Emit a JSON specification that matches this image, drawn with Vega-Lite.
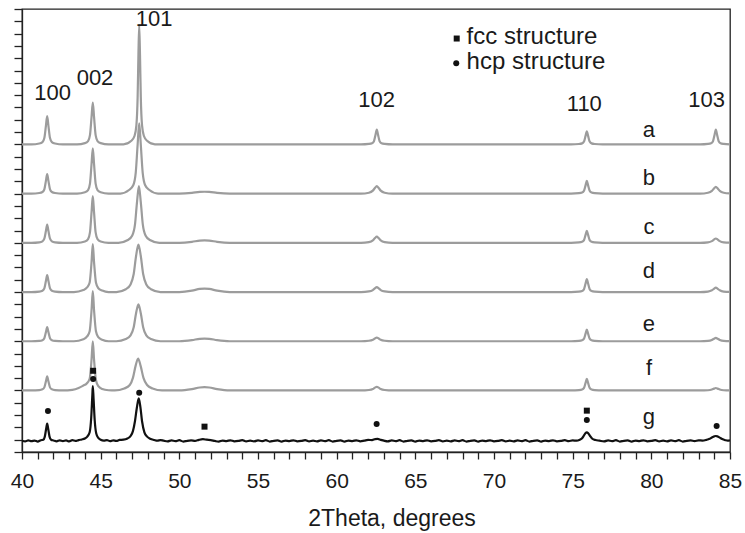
{
"$schema": "https://vega.github.io/schema/vega-lite/v6.json",
"width": 708, "height": 443,
"autosize": {"type": "none"},
"padding": {"left": 22, "top": 9, "right": 15, "bottom": 81},
"background": "white",
"config": {"view": {"stroke": "#222", "strokeWidth": 1.3}, "font": "Liberation Sans"},
"datasets": {
"curves": [
{"s":"a","x":40.0,"y":25},{"s":"a","x":40.6,"y":25},{"s":"a","x":41.1,"y":25.07},{"s":"a","x":41.3,"y":25.18},{"s":"a","x":41.42,"y":25.51},{"s":"a","x":41.52,"y":26.5},{"s":"a","x":41.6,"y":27.3},{"s":"a","x":41.68,"y":26.5},{"s":"a","x":41.78,"y":25.51},{"s":"a","x":41.9,"y":25.18},{"s":"a","x":42.1,"y":25.07},{"s":"a","x":42.6,"y":25},
{"s":"a","x":43.5,"y":25},{"s":"a","x":44.0,"y":25.1},{"s":"a","x":44.2,"y":25.27},{"s":"a","x":44.32,"y":25.75},{"s":"a","x":44.42,"y":27.21},{"s":"a","x":44.5,"y":28.4},{"s":"a","x":44.58,"y":27.21},{"s":"a","x":44.68,"y":25.75},{"s":"a","x":44.8,"y":25.27},{"s":"a","x":45.0,"y":25.1},{"s":"a","x":45.5,"y":25},
{"s":"a","x":46.45,"y":25},{"s":"a","x":46.95,"y":25.29},{"s":"a","x":47.15,"y":25.68},{"s":"a","x":47.27,"y":26.55},{"s":"a","x":47.35,"y":28.88},{"s":"a","x":47.4,"y":32.28},{"s":"a","x":47.45,"y":34.7},{"s":"a","x":47.5,"y":32.28},{"s":"a","x":47.55,"y":28.88},{"s":"a","x":47.63,"y":26.55},{"s":"a","x":47.75,"y":25.68},{"s":"a","x":47.95,"y":25.29},{"s":"a","x":48.45,"y":25},
{"s":"a","x":55,"y":25},{"s":"a","x":61.55,"y":25},{"s":"a","x":62.05,"y":25.04},{"s":"a","x":62.25,"y":25.1},{"s":"a","x":62.37,"y":25.26},{"s":"a","x":62.47,"y":25.78},{"s":"a","x":62.55,"y":26.2},{"s":"a","x":62.63,"y":25.78},{"s":"a","x":62.73,"y":25.26},{"s":"a","x":62.85,"y":25.1},{"s":"a","x":63.05,"y":25.04},{"s":"a","x":63.55,"y":25},
{"s":"a","x":70,"y":25},{"s":"a","x":74.9,"y":25},{"s":"a","x":75.4,"y":25.03},{"s":"a","x":75.6,"y":25.08},{"s":"a","x":75.72,"y":25.23},{"s":"a","x":75.82,"y":25.69},{"s":"a","x":75.9,"y":26.06},{"s":"a","x":75.98,"y":25.69},{"s":"a","x":76.08,"y":25.23},{"s":"a","x":76.2,"y":25.08},{"s":"a","x":76.4,"y":25.03},{"s":"a","x":76.9,"y":25},
{"s":"a","x":83.1,"y":25},{"s":"a","x":83.6,"y":25.04},{"s":"a","x":83.8,"y":25.1},{"s":"a","x":83.92,"y":25.26},{"s":"a","x":84.02,"y":25.78},{"s":"a","x":84.1,"y":26.2},{"s":"a","x":84.18,"y":25.78},{"s":"a","x":84.28,"y":25.26},{"s":"a","x":84.4,"y":25.1},{"s":"a","x":84.6,"y":25.04},{"s":"a","x":85.0,"y":25},

{"s":"b","x":40.0,"y":21},{"s":"b","x":40.6,"y":21},{"s":"b","x":41.1,"y":21.05},{"s":"b","x":41.3,"y":21.13},{"s":"b","x":41.42,"y":21.35},{"s":"b","x":41.52,"y":22.03},{"s":"b","x":41.6,"y":22.58},{"s":"b","x":41.68,"y":22.03},{"s":"b","x":41.78,"y":21.35},{"s":"b","x":41.9,"y":21.13},{"s":"b","x":42.1,"y":21.05},{"s":"b","x":42.6,"y":21},
{"s":"b","x":43.5,"y":21},{"s":"b","x":44.0,"y":21.11},{"s":"b","x":44.2,"y":21.29},{"s":"b","x":44.32,"y":21.81},{"s":"b","x":44.42,"y":23.39},{"s":"b","x":44.5,"y":24.68},{"s":"b","x":44.58,"y":23.39},{"s":"b","x":44.68,"y":21.81},{"s":"b","x":44.8,"y":21.29},{"s":"b","x":45.0,"y":21.11},{"s":"b","x":45.5,"y":21},
{"s":"b","x":46.25,"y":21},{"s":"b","x":46.8,"y":21.29},{"s":"b","x":47.07,"y":21.68},{"s":"b","x":47.23,"y":22.71},{"s":"b","x":47.35,"y":24.99},{"s":"b","x":47.45,"y":26.7},{"s":"b","x":47.55,"y":24.99},{"s":"b","x":47.67,"y":22.71},{"s":"b","x":47.83,"y":21.68},{"s":"b","x":48.1,"y":21.29},{"s":"b","x":48.65,"y":21},
{"s":"b","x":50.0,"y":21},{"s":"b","x":50.8,"y":21.06},{"s":"b","x":51.3,"y":21.14},{"s":"b","x":51.6,"y":21.15},{"s":"b","x":51.9,"y":21.14},{"s":"b","x":52.4,"y":21.06},{"s":"b","x":53.2,"y":21},
{"s":"b","x":61.55,"y":21},{"s":"b","x":62.05,"y":21.07},{"s":"b","x":62.3,"y":21.24},{"s":"b","x":62.43,"y":21.45},{"s":"b","x":62.55,"y":21.6},{"s":"b","x":62.67,"y":21.45},{"s":"b","x":62.8,"y":21.24},{"s":"b","x":63.05,"y":21.07},{"s":"b","x":63.55,"y":21},
{"s":"b","x":74.9,"y":21},{"s":"b","x":75.4,"y":21.03},{"s":"b","x":75.6,"y":21.08},{"s":"b","x":75.72,"y":21.23},{"s":"b","x":75.82,"y":21.67},{"s":"b","x":75.9,"y":22.03},{"s":"b","x":75.98,"y":21.67},{"s":"b","x":76.08,"y":21.23},{"s":"b","x":76.2,"y":21.08},{"s":"b","x":76.4,"y":21.03},{"s":"b","x":76.9,"y":21},
{"s":"b","x":83.1,"y":21},{"s":"b","x":83.6,"y":21.07},{"s":"b","x":83.85,"y":21.22},{"s":"b","x":83.98,"y":21.41},{"s":"b","x":84.1,"y":21.55},{"s":"b","x":84.22,"y":21.41},{"s":"b","x":84.35,"y":21.22},{"s":"b","x":84.6,"y":21.07},{"s":"b","x":85.0,"y":21.01},

{"s":"c","x":40.0,"y":17},{"s":"c","x":40.6,"y":17},{"s":"c","x":41.1,"y":17.04},{"s":"c","x":41.3,"y":17.12},{"s":"c","x":41.42,"y":17.33},{"s":"c","x":41.52,"y":17.96},{"s":"c","x":41.6,"y":18.48},{"s":"c","x":41.68,"y":17.96},{"s":"c","x":41.78,"y":17.33},{"s":"c","x":41.9,"y":17.12},{"s":"c","x":42.1,"y":17.04},{"s":"c","x":42.6,"y":17},
{"s":"c","x":43.5,"y":17},{"s":"c","x":44.0,"y":17.11},{"s":"c","x":44.2,"y":17.3},{"s":"c","x":44.32,"y":17.84},{"s":"c","x":44.42,"y":19.47},{"s":"c","x":44.5,"y":20.8},{"s":"c","x":44.58,"y":19.47},{"s":"c","x":44.68,"y":17.84},{"s":"c","x":44.8,"y":17.3},{"s":"c","x":45.0,"y":17.11},{"s":"c","x":45.5,"y":17},
{"s":"c","x":46.13,"y":17},{"s":"c","x":46.73,"y":17.23},{"s":"c","x":47.01,"y":17.6},{"s":"c","x":47.18,"y":18.47},{"s":"c","x":47.31,"y":20.31},{"s":"c","x":47.43,"y":21.6},{"s":"c","x":47.55,"y":20.31},{"s":"c","x":47.68,"y":18.47},{"s":"c","x":47.85,"y":17.6},{"s":"c","x":48.13,"y":17.23},{"s":"c","x":48.73,"y":17},
{"s":"c","x":50.0,"y":17},{"s":"c","x":50.8,"y":17.08},{"s":"c","x":51.3,"y":17.18},{"s":"c","x":51.6,"y":17.2},{"s":"c","x":51.9,"y":17.18},{"s":"c","x":52.4,"y":17.08},{"s":"c","x":53.2,"y":17},
{"s":"c","x":61.55,"y":17},{"s":"c","x":62.05,"y":17.06},{"s":"c","x":62.3,"y":17.2},{"s":"c","x":62.43,"y":17.38},{"s":"c","x":62.55,"y":17.5},{"s":"c","x":62.67,"y":17.38},{"s":"c","x":62.8,"y":17.2},{"s":"c","x":63.05,"y":17.06},{"s":"c","x":63.55,"y":17},
{"s":"c","x":74.9,"y":17},{"s":"c","x":75.4,"y":17.03},{"s":"c","x":75.6,"y":17.08},{"s":"c","x":75.72,"y":17.22},{"s":"c","x":75.82,"y":17.64},{"s":"c","x":75.9,"y":17.98},{"s":"c","x":75.98,"y":17.64},{"s":"c","x":76.08,"y":17.22},{"s":"c","x":76.2,"y":17.08},{"s":"c","x":76.4,"y":17.03},{"s":"c","x":76.9,"y":17},
{"s":"c","x":83.1,"y":17},{"s":"c","x":83.6,"y":17.04},{"s":"c","x":83.85,"y":17.14},{"s":"c","x":83.98,"y":17.26},{"s":"c","x":84.1,"y":17.35},{"s":"c","x":84.22,"y":17.26},{"s":"c","x":84.35,"y":17.14},{"s":"c","x":84.6,"y":17.04},{"s":"c","x":85.0,"y":17.01},

{"s":"d","x":40.0,"y":13},{"s":"d","x":40.6,"y":13},{"s":"d","x":41.1,"y":13.04},{"s":"d","x":41.3,"y":13.11},{"s":"d","x":41.42,"y":13.3},{"s":"d","x":41.52,"y":13.9},{"s":"d","x":41.6,"y":14.38},{"s":"d","x":41.68,"y":13.9},{"s":"d","x":41.78,"y":13.3},{"s":"d","x":41.9,"y":13.11},{"s":"d","x":42.1,"y":13.04},{"s":"d","x":42.6,"y":13},
{"s":"d","x":43.3,"y":13},{"s":"d","x":43.9,"y":13.16},{"s":"d","x":44.15,"y":13.39},{"s":"d","x":44.3,"y":13.78},{"s":"d","x":44.42,"y":15.42},{"s":"d","x":44.5,"y":16.9},{"s":"d","x":44.58,"y":15.42},{"s":"d","x":44.7,"y":13.78},{"s":"d","x":44.85,"y":13.31},{"s":"d","x":45.1,"y":13.12},{"s":"d","x":45.5,"y":13},
{"s":"d","x":46.0,"y":13},{"s":"d","x":46.6,"y":13.23},{"s":"d","x":46.9,"y":13.62},{"s":"d","x":47.1,"y":14.46},{"s":"d","x":47.25,"y":15.93},{"s":"d","x":47.4,"y":16.85},{"s":"d","x":47.55,"y":15.93},{"s":"d","x":47.7,"y":14.46},{"s":"d","x":47.9,"y":13.62},{"s":"d","x":48.2,"y":13.23},{"s":"d","x":48.8,"y":13},
{"s":"d","x":50.0,"y":13},{"s":"d","x":50.8,"y":13.11},{"s":"d","x":51.3,"y":13.25},{"s":"d","x":51.6,"y":13.28},{"s":"d","x":51.9,"y":13.25},{"s":"d","x":52.4,"y":13.11},{"s":"d","x":53.2,"y":13},
{"s":"d","x":61.55,"y":13},{"s":"d","x":62.05,"y":13.05},{"s":"d","x":62.3,"y":13.16},{"s":"d","x":62.43,"y":13.3},{"s":"d","x":62.55,"y":13.4},{"s":"d","x":62.67,"y":13.3},{"s":"d","x":62.8,"y":13.16},{"s":"d","x":63.05,"y":13.05},{"s":"d","x":63.55,"y":13},
{"s":"d","x":74.9,"y":13},{"s":"d","x":75.4,"y":13.03},{"s":"d","x":75.6,"y":13.08},{"s":"d","x":75.72,"y":13.23},{"s":"d","x":75.82,"y":13.69},{"s":"d","x":75.9,"y":14.06},{"s":"d","x":75.98,"y":13.69},{"s":"d","x":76.08,"y":13.23},{"s":"d","x":76.2,"y":13.08},{"s":"d","x":76.4,"y":13.03},{"s":"d","x":76.9,"y":13},
{"s":"d","x":83.1,"y":13},{"s":"d","x":83.6,"y":13.04},{"s":"d","x":83.85,"y":13.14},{"s":"d","x":83.98,"y":13.26},{"s":"d","x":84.1,"y":13.35},{"s":"d","x":84.22,"y":13.26},{"s":"d","x":84.35,"y":13.14},{"s":"d","x":84.6,"y":13.04},{"s":"d","x":85.0,"y":13.01},

{"s":"e","x":40.0,"y":9},{"s":"e","x":40.6,"y":9},{"s":"e","x":41.1,"y":9.03},{"s":"e","x":41.3,"y":9.09},{"s":"e","x":41.42,"y":9.25},{"s":"e","x":41.52,"y":9.74},{"s":"e","x":41.6,"y":10.14},{"s":"e","x":41.68,"y":9.74},{"s":"e","x":41.78,"y":9.25},{"s":"e","x":41.9,"y":9.09},{"s":"e","x":42.1,"y":9.03},{"s":"e","x":42.6,"y":9},
{"s":"e","x":43.3,"y":9},{"s":"e","x":43.9,"y":9.16},{"s":"e","x":44.15,"y":9.41},{"s":"e","x":44.3,"y":9.81},{"s":"e","x":44.42,"y":11.52},{"s":"e","x":44.5,"y":13.07},{"s":"e","x":44.58,"y":11.52},{"s":"e","x":44.7,"y":9.81},{"s":"e","x":44.85,"y":9.33},{"s":"e","x":45.1,"y":9.12},{"s":"e","x":45.5,"y":9},
{"s":"e","x":46.0,"y":9},{"s":"e","x":46.6,"y":9.18},{"s":"e","x":46.9,"y":9.48},{"s":"e","x":47.1,"y":10.14},{"s":"e","x":47.25,"y":11.28},{"s":"e","x":47.4,"y":12.0},{"s":"e","x":47.55,"y":11.28},{"s":"e","x":47.7,"y":10.14},{"s":"e","x":47.9,"y":9.48},{"s":"e","x":48.2,"y":9.18},{"s":"e","x":48.8,"y":9},
{"s":"e","x":50.0,"y":9},{"s":"e","x":50.8,"y":9.09},{"s":"e","x":51.3,"y":9.2},{"s":"e","x":51.6,"y":9.22},{"s":"e","x":51.9,"y":9.2},{"s":"e","x":52.4,"y":9.09},{"s":"e","x":53.2,"y":9},
{"s":"e","x":61.55,"y":9},{"s":"e","x":62.05,"y":9.04},{"s":"e","x":62.3,"y":9.12},{"s":"e","x":62.43,"y":9.23},{"s":"e","x":62.55,"y":9.3},{"s":"e","x":62.67,"y":9.23},{"s":"e","x":62.8,"y":9.12},{"s":"e","x":63.05,"y":9.04},{"s":"e","x":63.55,"y":9},
{"s":"e","x":74.9,"y":9},{"s":"e","x":75.4,"y":9.03},{"s":"e","x":75.6,"y":9.08},{"s":"e","x":75.72,"y":9.21},{"s":"e","x":75.82,"y":9.62},{"s":"e","x":75.9,"y":9.95},{"s":"e","x":75.98,"y":9.62},{"s":"e","x":76.08,"y":9.21},{"s":"e","x":76.2,"y":9.08},{"s":"e","x":76.4,"y":9.03},{"s":"e","x":76.9,"y":9},
{"s":"e","x":83.1,"y":9},{"s":"e","x":83.6,"y":9.03},{"s":"e","x":83.85,"y":9.11},{"s":"e","x":83.98,"y":9.2},{"s":"e","x":84.1,"y":9.27},{"s":"e","x":84.22,"y":9.2},{"s":"e","x":84.35,"y":9.11},{"s":"e","x":84.6,"y":9.03},{"s":"e","x":85.0,"y":9.01},

{"s":"f","x":40.0,"y":5},{"s":"f","x":40.6,"y":5},{"s":"f","x":41.1,"y":5.03},{"s":"f","x":41.3,"y":5.09},{"s":"f","x":41.42,"y":5.25},{"s":"f","x":41.52,"y":5.74},{"s":"f","x":41.6,"y":6.14},{"s":"f","x":41.68,"y":5.74},{"s":"f","x":41.78,"y":5.25},{"s":"f","x":41.9,"y":5.09},{"s":"f","x":42.1,"y":5.03},{"s":"f","x":42.6,"y":5},
{"s":"f","x":43.2,"y":5.05},{"s":"f","x":43.6,"y":5.2},{"s":"f","x":43.9,"y":5.4},{"s":"f","x":44.1,"y":5.55},{"s":"f","x":44.3,"y":5.95},{"s":"f","x":44.42,"y":7.5},{"s":"f","x":44.5,"y":9.0},{"s":"f","x":44.58,"y":7.5},{"s":"f","x":44.7,"y":5.85},{"s":"f","x":44.85,"y":5.35},{"s":"f","x":45.1,"y":5.12},{"s":"f","x":45.5,"y":5.02},
{"s":"f","x":45.9,"y":5},{"s":"f","x":46.5,"y":5.16},{"s":"f","x":46.85,"y":5.44},{"s":"f","x":47.05,"y":6.02},{"s":"f","x":47.22,"y":7.0},{"s":"f","x":47.38,"y":7.6},{"s":"f","x":47.54,"y":7.0},{"s":"f","x":47.72,"y":6.02},{"s":"f","x":47.95,"y":5.44},{"s":"f","x":48.3,"y":5.16},{"s":"f","x":48.9,"y":5},
{"s":"f","x":50.0,"y":5},{"s":"f","x":50.8,"y":5.11},{"s":"f","x":51.3,"y":5.24},{"s":"f","x":51.6,"y":5.27},{"s":"f","x":51.9,"y":5.24},{"s":"f","x":52.4,"y":5.11},{"s":"f","x":53.2,"y":5},
{"s":"f","x":61.55,"y":5},{"s":"f","x":62.05,"y":5.04},{"s":"f","x":62.3,"y":5.12},{"s":"f","x":62.43,"y":5.23},{"s":"f","x":62.55,"y":5.3},{"s":"f","x":62.67,"y":5.23},{"s":"f","x":62.8,"y":5.12},{"s":"f","x":63.05,"y":5.04},{"s":"f","x":63.55,"y":5},
{"s":"f","x":74.9,"y":5},{"s":"f","x":75.4,"y":5.03},{"s":"f","x":75.6,"y":5.08},{"s":"f","x":75.72,"y":5.21},{"s":"f","x":75.82,"y":5.62},{"s":"f","x":75.9,"y":5.95},{"s":"f","x":75.98,"y":5.62},{"s":"f","x":76.08,"y":5.21},{"s":"f","x":76.2,"y":5.08},{"s":"f","x":76.4,"y":5.03},{"s":"f","x":76.9,"y":5},
{"s":"f","x":83.1,"y":5},{"s":"f","x":83.6,"y":5.02},{"s":"f","x":83.85,"y":5.08},{"s":"f","x":83.98,"y":5.15},{"s":"f","x":84.1,"y":5.2},{"s":"f","x":84.22,"y":5.15},{"s":"f","x":84.35,"y":5.08},{"s":"f","x":84.6,"y":5.02},{"s":"f","x":85.0,"y":5},

{"s":"g","x":40.0,"y":0.92},{"s":"g","x":40.2,"y":0.86},{"s":"g","x":40.4,"y":0.95},{"s":"g","x":40.6,"y":0.88},{"s":"g","x":40.8,"y":0.93},{"s":"g","x":41.0,"y":0.85},{"s":"g","x":41.2,"y":0.96},{"s":"g","x":41.35,"y":1.0},{"s":"g","x":41.45,"y":1.25},{"s":"g","x":41.53,"y":1.85},{"s":"g","x":41.6,"y":2.31},{"s":"g","x":41.67,"y":1.85},{"s":"g","x":41.75,"y":1.25},{"s":"g","x":41.85,"y":1.0},
{"s":"g","x":42.0,"y":0.94},{"s":"g","x":42.2,"y":0.87},{"s":"g","x":42.4,"y":0.95},{"s":"g","x":42.6,"y":0.89},{"s":"g","x":42.8,"y":0.94},{"s":"g","x":43.0,"y":0.86},{"s":"g","x":43.2,"y":0.96},{"s":"g","x":43.4,"y":0.9},{"s":"g","x":43.6,"y":0.97},{"s":"g","x":43.8,"y":1.02},{"s":"g","x":44.0,"y":1.1},{"s":"g","x":44.15,"y":1.25},{"s":"g","x":44.3,"y":1.6},{"s":"g","x":44.4,"y":2.8},{"s":"g","x":44.47,"y":4.6},{"s":"g","x":44.5,"y":5.35},{"s":"g","x":44.55,"y":4.3},{"s":"g","x":44.62,"y":2.6},{"s":"g","x":44.72,"y":1.5},{"s":"g","x":44.85,"y":1.15},
{"s":"g","x":45.0,"y":1.0},{"s":"g","x":45.2,"y":0.93},{"s":"g","x":45.4,"y":0.97},{"s":"g","x":45.6,"y":0.88},{"s":"g","x":45.8,"y":0.95},{"s":"g","x":46.0,"y":0.9},{"s":"g","x":46.2,"y":0.98},{"s":"g","x":46.45,"y":1.0},{"s":"g","x":46.7,"y":1.1},{"s":"g","x":46.9,"y":1.3},{"s":"g","x":47.05,"y":1.7},{"s":"g","x":47.18,"y":2.5},{"s":"g","x":47.3,"y":3.6},{"s":"g","x":47.42,"y":4.35},{"s":"g","x":47.52,"y":3.7},{"s":"g","x":47.63,"y":2.5},{"s":"g","x":47.78,"y":1.6},{"s":"g","x":47.95,"y":1.25},{"s":"g","x":48.15,"y":1.08},{"s":"g","x":48.4,"y":0.98},{"s":"g","x":48.6,"y":0.92},{"s":"g","x":48.8,"y":0.97},
{"s":"g","x":49.0,"y":0.92},{"s":"g","x":49.25,"y":0.86},{"s":"g","x":49.5,"y":0.95},{"s":"g","x":49.75,"y":0.88},{"s":"g","x":50.0,"y":0.96},{"s":"g","x":50.25,"y":0.85},{"s":"g","x":50.5,"y":0.91},{"s":"g","x":50.75,"y":0.94},{"s":"g","x":51.0,"y":0.9},{"s":"g","x":51.25,"y":0.99},{"s":"g","x":51.5,"y":1.04},{"s":"g","x":51.75,"y":1.0},{"s":"g","x":52.0,"y":0.97},{"s":"g","x":52.25,"y":0.9},{"s":"g","x":52.5,"y":0.84},{"s":"g","x":52.75,"y":0.93},
{"s":"g","x":53.0,"y":0.89},{"s":"g","x":53.25,"y":0.95},{"s":"g","x":53.5,"y":0.87},{"s":"g","x":53.75,"y":0.9},{"s":"g","x":54.0,"y":0.96},{"s":"g","x":54.25,"y":0.86},{"s":"g","x":54.5,"y":0.92},{"s":"g","x":54.75,"y":0.86},{"s":"g","x":55.0,"y":0.95},{"s":"g","x":55.25,"y":0.88},{"s":"g","x":55.5,"y":0.96},{"s":"g","x":55.75,"y":0.85},{"s":"g","x":56.0,"y":0.91},{"s":"g","x":56.25,"y":0.94},{"s":"g","x":56.5,"y":0.84},{"s":"g","x":56.75,"y":0.93},
{"s":"g","x":57.0,"y":0.89},{"s":"g","x":57.25,"y":0.95},{"s":"g","x":57.5,"y":0.87},{"s":"g","x":57.75,"y":0.9},{"s":"g","x":58.0,"y":0.96},{"s":"g","x":58.25,"y":0.86},{"s":"g","x":58.5,"y":0.92},{"s":"g","x":58.75,"y":0.86},{"s":"g","x":59.0,"y":0.95},{"s":"g","x":59.25,"y":0.88},{"s":"g","x":59.5,"y":0.96},{"s":"g","x":59.75,"y":0.85},{"s":"g","x":60.0,"y":0.91},{"s":"g","x":60.25,"y":0.94},{"s":"g","x":60.5,"y":0.84},{"s":"g","x":60.75,"y":0.93},
{"s":"g","x":61.0,"y":0.89},{"s":"g","x":61.25,"y":0.95},{"s":"g","x":61.5,"y":0.87},{"s":"g","x":61.75,"y":0.92},{"s":"g","x":62.0,"y":0.98},{"s":"g","x":62.25,"y":0.97},{"s":"g","x":62.45,"y":1.05},{"s":"g","x":62.6,"y":1.06},{"s":"g","x":62.8,"y":0.99},{"s":"g","x":63.0,"y":0.92},{"s":"g","x":63.25,"y":0.86},{"s":"g","x":63.5,"y":0.95},{"s":"g","x":63.75,"y":0.88},{"s":"g","x":64.0,"y":0.96},{"s":"g","x":64.25,"y":0.85},{"s":"g","x":64.5,"y":0.91},{"s":"g","x":64.75,"y":0.94},
{"s":"g","x":65.0,"y":0.84},{"s":"g","x":65.25,"y":0.93},{"s":"g","x":65.5,"y":0.89},{"s":"g","x":65.75,"y":0.95},{"s":"g","x":66.0,"y":0.87},{"s":"g","x":66.25,"y":0.9},{"s":"g","x":66.5,"y":0.96},{"s":"g","x":66.75,"y":0.86},{"s":"g","x":67.0,"y":0.92},{"s":"g","x":67.25,"y":0.86},{"s":"g","x":67.5,"y":0.95},{"s":"g","x":67.75,"y":0.88},{"s":"g","x":68.0,"y":0.96},{"s":"g","x":68.25,"y":0.85},{"s":"g","x":68.5,"y":0.91},{"s":"g","x":68.75,"y":0.94},
{"s":"g","x":69.0,"y":0.84},{"s":"g","x":69.25,"y":0.93},{"s":"g","x":69.5,"y":0.89},{"s":"g","x":69.75,"y":0.95},{"s":"g","x":70.0,"y":0.87},{"s":"g","x":70.25,"y":0.9},{"s":"g","x":70.5,"y":0.96},{"s":"g","x":70.75,"y":0.86},{"s":"g","x":71.0,"y":0.92},{"s":"g","x":71.25,"y":0.86},{"s":"g","x":71.5,"y":0.95},{"s":"g","x":71.75,"y":0.88},{"s":"g","x":72.0,"y":0.96},{"s":"g","x":72.25,"y":0.85},{"s":"g","x":72.5,"y":0.91},{"s":"g","x":72.75,"y":0.94},
{"s":"g","x":73.0,"y":0.84},{"s":"g","x":73.25,"y":0.93},{"s":"g","x":73.5,"y":0.89},{"s":"g","x":73.75,"y":0.95},{"s":"g","x":74.0,"y":0.87},{"s":"g","x":74.25,"y":0.9},{"s":"g","x":74.5,"y":0.96},{"s":"g","x":74.75,"y":0.88},{"s":"g","x":75.0,"y":0.94},{"s":"g","x":75.25,"y":0.92},{"s":"g","x":75.45,"y":1.0},{"s":"g","x":75.6,"y":1.12},{"s":"g","x":75.72,"y":1.35},{"s":"g","x":75.82,"y":1.55},{"s":"g","x":75.9,"y":1.6},{"s":"g","x":76.0,"y":1.5},{"s":"g","x":76.12,"y":1.28},{"s":"g","x":76.25,"y":1.08},{"s":"g","x":76.45,"y":0.97},{"s":"g","x":76.7,"y":0.92},
{"s":"g","x":77.0,"y":0.86},{"s":"g","x":77.25,"y":0.95},{"s":"g","x":77.5,"y":0.88},{"s":"g","x":77.75,"y":0.96},{"s":"g","x":78.0,"y":0.85},{"s":"g","x":78.25,"y":0.91},{"s":"g","x":78.5,"y":0.94},{"s":"g","x":78.75,"y":0.84},{"s":"g","x":79.0,"y":0.93},{"s":"g","x":79.25,"y":0.89},{"s":"g","x":79.5,"y":0.95},{"s":"g","x":79.75,"y":0.87},{"s":"g","x":80.0,"y":0.9},{"s":"g","x":80.25,"y":0.96},{"s":"g","x":80.5,"y":0.86},{"s":"g","x":80.75,"y":0.92},
{"s":"g","x":81.0,"y":0.86},{"s":"g","x":81.25,"y":0.95},{"s":"g","x":81.5,"y":0.88},{"s":"g","x":81.75,"y":0.96},{"s":"g","x":82.0,"y":0.85},{"s":"g","x":82.25,"y":0.91},{"s":"g","x":82.5,"y":0.94},{"s":"g","x":82.75,"y":0.88},{"s":"g","x":83.0,"y":0.95},{"s":"g","x":83.25,"y":0.93},{"s":"g","x":83.5,"y":0.99},{"s":"g","x":83.7,"y":1.07},{"s":"g","x":83.85,"y":1.18},{"s":"g","x":84.0,"y":1.27},{"s":"g","x":84.1,"y":1.3},{"s":"g","x":84.2,"y":1.27},{"s":"g","x":84.35,"y":1.17},{"s":"g","x":84.5,"y":1.05},{"s":"g","x":84.7,"y":0.96},{"s":"g","x":84.85,"y":0.92},{"s":"g","x":85.0,"y":0.95}
],
"markers": [
{"x":41.65,"y":3.33,"phase":"hcp"},{"x":44.52,"y":6.6,"phase":"fcc"},{"x":44.52,"y":5.93,"phase":"hcp"},{"x":47.45,"y":4.82,"phase":"hcp"},{"x":51.6,"y":2.06,"phase":"fcc"},{"x":62.54,"y":2.28,"phase":"hcp"},{"x":75.9,"y":3.36,"phase":"fcc"},{"x":75.9,"y":2.6,"phase":"hcp"},{"x":84.15,"y":2.11,"phase":"hcp"},
{"x":67.63,"y":33.6,"phase":"fcc"},{"x":67.6,"y":31.6,"phase":"hcp"}
],
"labels": [
{"x":41.94,"y":28.6,"text":"100","kind":"peak"},{"x":44.64,"y":29.8,"text":"002","kind":"peak"},{"x":48.4,"y":34.6,"text":"101","kind":"peak"},{"x":62.54,"y":28.0,"text":"102","kind":"peak"},{"x":75.74,"y":27.7,"text":"110","kind":"peak"},{"x":83.52,"y":28.0,"text":"103","kind":"peak"},
{"x":79.85,"y":25.6,"text":"a","kind":"peak"},{"x":79.85,"y":21.7,"text":"b","kind":"peak"},{"x":79.85,"y":17.7,"text":"c","kind":"peak"},{"x":79.85,"y":14.1,"text":"d","kind":"peak"},{"x":79.85,"y":9.8,"text":"e","kind":"peak"},{"x":79.85,"y":6.26,"text":"f","kind":"peak"},{"x":79.85,"y":2.25,"text":"g","kind":"peak"},
{"x":68.26,"y":33.17,"text":"fcc structure","kind":"legend"},{"x":68.26,"y":31.14,"text":"hcp structure","kind":"legend"}
]
},
"encoding": {
"x": {"field": "x", "type": "quantitative", "scale": {"domain": [40, 85], "nice": false, "zero": false},
 "axis": {"title": "2Theta, degrees", "values": [40,41,42,43,44,45,46,47,48,49,50,51,52,53,54,55,56,57,58,59,60,61,62,63,64,65,66,67,68,69,70,71,72,73,74,75,76,77,78,79,80,81,82,83,84,85],
  "labelExpr": "datum.value % 5 === 0 ? datum.label : ''", "labelOverlap": false, "labelFlush": false, "labelBound": false,
  "tickSize": 7, "tickWidth": 1.3, "tickColor": "#222", "domainColor": "#222", "domainWidth": 1.3, "grid": false,
  "labelFontSize": 21, "labelColor": "#1a1a1a", "labelFont": "Liberation Sans", "labelBaseline": "alphabetic", "labelPadding": 28,
  "titleFontSize": 23, "titleFontWeight": "normal", "titleColor": "#1a1a1a", "titleFont": "Liberation Sans", "titleX": 369.5, "titleY": 73, "titleBaseline": "alphabetic", "titleAlign": "center", "titleAnchor": null}},
"y": {"field": "y", "type": "quantitative", "scale": {"domain": [0, 36], "nice": false, "zero": false},
 "axis": {"title": null, "values": [0,1,2,3,4,5,6,7,8,9,10,11,12,13,14,15,16,17,18,19,20,21,22,23,24,25,26,27,28,29,30,31,32,33,34,35,36],
  "labels": false, "tickSize": 8, "tickWidth": 1.3, "tickColor": "#222", "domainColor": "#222", "domainWidth": 1.3, "grid": false}}
},
"layer": [
{"data": {"name": "curves"}, "mark": {"type": "line", "interpolate": "monotone", "clip": true},
 "encoding": {
  "detail": {"field": "s", "type": "nominal"},
  "color": {"field": "s", "type": "nominal", "scale": {"domain": ["a","b","c","d","e","f","g"], "range": ["#9c9c9c","#9c9c9c","#9c9c9c","#9c9c9c","#9c9c9c","#9c9c9c","#111111"]}, "legend": null},
  "strokeWidth": {"field": "s", "type": "nominal", "scale": {"domain": ["a","b","c","d","e","f","g"], "range": [2.2,2.2,2.2,2.2,2.2,2.2,1.6]}, "legend": null}
 }},
{"data": {"name": "markers"}, "mark": {"type": "point", "filled": true, "opacity": 1, "color": "#111", "size": 36},
 "encoding": {"shape": {"field": "phase", "type": "nominal", "scale": {"domain": ["fcc","hcp"], "range": ["square","circle"]}, "legend": null}}},
{"data": {"name": "labels"}, "transform": [{"filter": "datum.kind === 'peak'"}], "mark": {"type": "text", "align": "center", "baseline": "alphabetic", "fontSize": 22, "color": "#1a1a1a", "font": "Liberation Sans"},
 "encoding": {"text": {"field": "text"}}},
{"data": {"name": "labels"}, "transform": [{"filter": "datum.kind === 'legend'"}], "mark": {"type": "text", "align": "left", "baseline": "alphabetic", "fontSize": 24, "color": "#1a1a1a", "font": "Liberation Sans"},
 "encoding": {"text": {"field": "text"}}}
]
}
